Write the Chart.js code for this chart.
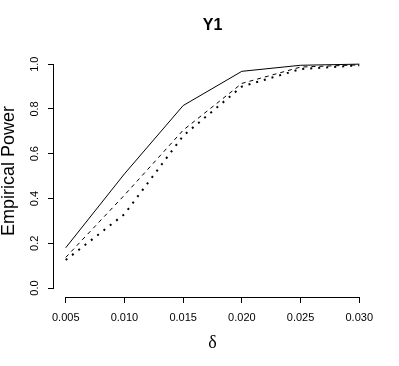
<!DOCTYPE html>
<html>
<head>
<meta charset="utf-8">
<script src="https://cdn.jsdelivr.net/npm/chart.js@4.4.1/dist/chart.umd.min.js"></script>
<style>
  html, body { margin: 0; padding: 0; background: #fff; }
  canvas { display: block; }
</style>
</head>
<body>
<canvas id="grafica" width="399" height="366"></canvas>
<script>
// datos
const deltas = [0.005, 0.010, 0.015, 0.020, 0.025, 0.030];
const potenciaSolida = [0.18, 0.51, 0.815, 0.968, 0.995, 1.0];
const potenciaGuiones = [0.137, 0.415, 0.705, 0.914, 0.987, 0.997];
const potenciaPuntos = [0.125, 0.33, 0.68, 0.90, 0.978, 0.995];
const ticksX = [0.005, 0.010, 0.015, 0.020, 0.025, 0.030];
const ticksY = [0.0, 0.2, 0.4, 0.6, 0.8, 1.0];

const puntos = serie => deltas.map((d, i) => ({ x: d, y: serie[i] }));

// lineas de eje estilo R: solo del primer al ultimo tick
const ejesR = {
  id: "ejesR",
  afterDraw(chart) {
    const { ctx, chartArea, scales } = chart;
    ctx.save();
    ctx.strokeStyle = "#000";
    ctx.lineWidth = 1;
    ctx.beginPath();
    const yb = Math.round(chartArea.bottom) + 0.5;
    ctx.moveTo(scales.x.getPixelForValue(ticksX[0]), yb);
    ctx.lineTo(scales.x.getPixelForValue(ticksX[ticksX.length - 1]), yb);
    const xl = Math.round(chartArea.left) - 0.5;
    ctx.moveTo(xl, scales.y.getPixelForValue(ticksY[0]));
    ctx.lineTo(xl, scales.y.getPixelForValue(ticksY[ticksY.length - 1]));
    ctx.stroke();
    ctx.restore();
  }
};

Chart.defaults.font.family = "'Liberation Sans', Arial, sans-serif";
Chart.defaults.color = "#000";

new Chart(document.getElementById("grafica"), {
  type: "line",
  data: {
    datasets: [
      {
        data: puntos(potenciaSolida),
        borderColor: "#000",
        borderWidth: 1
      },
      {
        data: puntos(potenciaGuiones),
        borderColor: "#000",
        borderWidth: 1,
        borderDash: [4, 4]
      },
      {
        data: puntos(potenciaPuntos),
        borderColor: "#000",
        borderWidth: 2,
        borderDash: [2, 6]
      }
    ]
  },
  options: {
    responsive: false,
    animation: false,
    devicePixelRatio: 1,
    layout: { padding: { left: 0, right: 28, top: 0, bottom: 0 } },
    elements: { point: { radius: 0 }, line: { tension: 0 } },
    plugins: {
      legend: { display: false },
      tooltip: { enabled: false },
      title: {
        display: true,
        fullSize: false,
        text: "Y1",
        font: { size: 16, weight: "bold" },
        padding: { top: 16, bottom: 20 }
      }
    },
    scales: {
      x: {
        type: "linear",
        min: 0.004,
        max: 0.031,
        afterBuildTicks: s => { s.ticks = ticksX.map(v => ({ value: v })); },
        afterFit: s => { s.height = 69; },
        grid: { drawOnChartArea: false, drawTicks: true, tickLength: 6, color: "#000" },
        border: { display: false },
        ticks: {
          font: { size: 11 },
          padding: 8,
          maxRotation: 0,
          callback: v => v.toFixed(3)
        },
        title: {
          display: true,
          text: "δ",
          font: { size: 18, family: "'Liberation Serif', 'DejaVu Serif', serif" },
          padding: { top: 0, bottom: 12 }
        }
      },
      y: {
        min: -0.04,
        max: 1.04,
        afterBuildTicks: s => { s.ticks = ticksY.map(v => ({ value: v })); },
        afterFit: s => { s.width = 54; },
        grid: { drawOnChartArea: false, drawTicks: true, tickLength: 6, color: "#000" },
        border: { display: false },
        ticks: {
          font: { size: 11 },
          padding: 5,
          minRotation: 90,
          maxRotation: 90,
          crossAlign: "center",
          callback: v => v.toFixed(1)
        },
        title: {
          display: true,
          text: "  Empirical Power",
          font: { size: 18, lineHeight: 1 },
          padding: { top: 0, bottom: 0 }
        }
      }
    }
  },
  plugins: [ejesR]
});
</script>
</body>
</html>
